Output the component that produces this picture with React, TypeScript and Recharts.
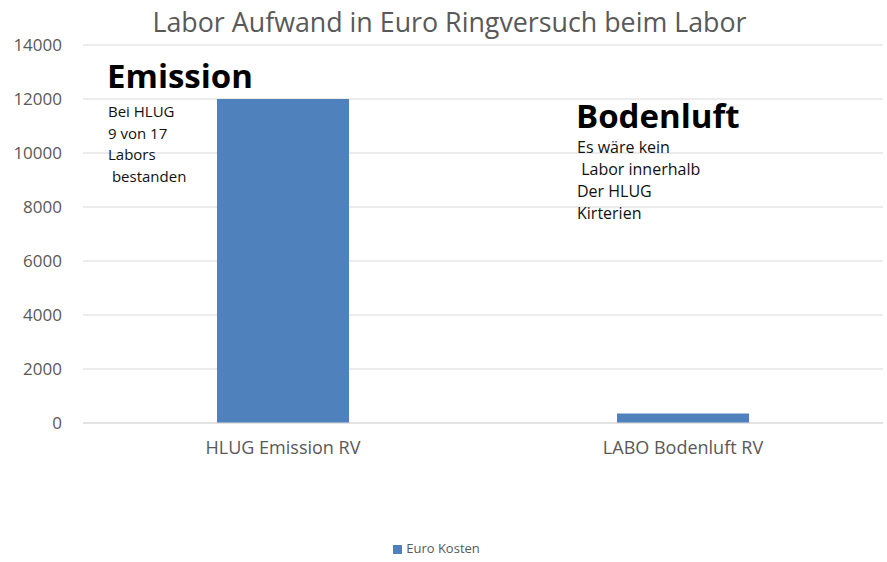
import { BarChart, Bar, XAxis, YAxis, CartesianGrid, Legend } from 'recharts';

const categories = ['HLUG Emission RV', 'LABO Bodenluft RV'];
const euroKosten = [12000, 350];
const yTicks = [0, 2000, 4000, 6000, 8000, 10000, 12000, 14000];
const title = 'Labor Aufwand in Euro Ringversuch beim Labor';
const emissionNote = ['Bei HLUG', '9 von 17', 'Labors', '\u00a0bestanden'];
const bodenluftNote = ['Es wäre kein', '\u00a0Labor innerhalb', 'Der HLUG', 'Kirterien'];

const data = categories.map((name, i) => ({ name, kosten: euroKosten[i] }));

const FONT = '"Open Sans", sans-serif';
const GRAY = '#595959';

const noteStyle = { position: 'absolute' as const, fontFamily: FONT, fontSize: 15, lineHeight: '21.5px', color: '#111' };
const headStyle = { position: 'absolute' as const, fontFamily: FONT, fontSize: 33, fontWeight: 700, color: '#000', lineHeight: '38px' };

export default function App() {
  return (
    <div style={{ position: 'absolute', left: 0, top: 0, width: 887, height: 562, background: '#fff' }}>
      <div style={{ position: 'absolute', left: 6, width: 887, top: 3, textAlign: 'center', fontFamily: FONT, fontSize: 26.8, color: GRAY }}>
        {title}
      </div>
      <BarChart width={887} height={562} data={data} margin={{ top: 45, right: 4, left: 0, bottom: 69 }}>
        <CartesianGrid vertical={false} stroke="#d9d9d9" />
        <XAxis
          dataKey="name"
          height={40}
          stroke="#d9d9d9"
          tickLine={false}
          tickMargin={12}
          tick={{ fill: GRAY, fontSize: 18, fontFamily: FONT }}
        />
        <YAxis
          domain={[0, 14000]}
          ticks={yTicks}
          width={83}
          axisLine={false}
          tickLine={false}
          tickMargin={15}
          tick={{ fill: GRAY, fontSize: 17, fontFamily: FONT }}
        />
        <Legend
          height={30}
          iconType="square"
          iconSize={9}
          wrapperStyle={{ top: 539, fontFamily: FONT, fontSize: 13 }}
          formatter={(v) => <span style={{ color: GRAY }}>{v}</span>}
        />
        <Bar dataKey="kosten" name="Euro Kosten" fill="#4f81bd" barSize={132} isAnimationActive={false} />
      </BarChart>
      <div style={{ ...headStyle, left: 107, top: 57 }}>Emission</div>
      <div style={{ ...noteStyle, left: 108, top: 101 }}>
        {emissionNote.map((t) => <div key={t}>{t}</div>)}
      </div>
      <div style={{ ...headStyle, left: 576, top: 97 }}>Bodenluft</div>
      <div style={{ ...noteStyle, fontSize: 16, left: 577, top: 136, lineHeight: '22px' }}>
        {bodenluftNote.map((t) => <div key={t}>{t}</div>)}
      </div>
    </div>
  );
}
